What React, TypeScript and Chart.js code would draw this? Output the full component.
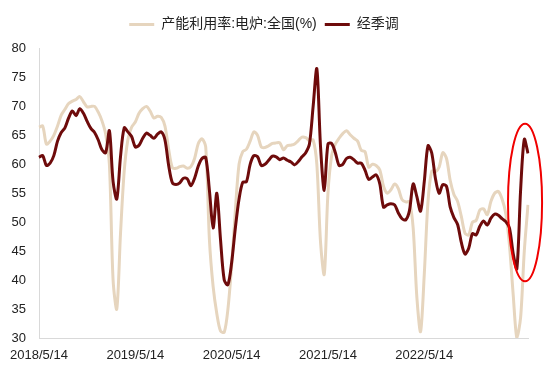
import React, { useEffect, useRef } from "react";
import { Chart, registerables } from "chart.js";

Chart.register(...registerables);

// Biweekly observations, starting 2018/5/14
const seasonallyAdjusted = [
  61.2, 61.5, 59.8, 60.2, 61.5, 64.0, 65.5, 66.3, 68.0, 69.2,
  68.4, 69.6, 68.8, 67.4, 66.2, 65.5, 64.2, 62.5, 62.0, 65.8,
  57.0, 54.0, 61.3, 66.3, 65.6, 64.8, 63.0, 63.3, 64.5, 65.4,
  65.0, 64.5, 65.2, 65.6, 64.2, 59.8, 56.8, 56.5, 56.8, 57.6,
  57.5, 56.3, 57.6, 59.7, 61.0, 61.2, 55.5, 49.0, 55.0, 47.0,
  40.0, 39.2, 43.0, 49.0, 54.0, 56.9, 57.0, 60.0, 61.5, 61.3,
  59.8, 60.0, 60.7, 61.4, 61.3, 60.8, 61.1, 60.7, 60.4, 59.9,
  60.5, 61.3, 62.0, 63.5, 70.0, 76.5, 63.0, 55.5, 63.5, 63.6,
  62.0, 59.8, 60.0, 61.0, 61.2, 60.8, 60.2, 60.2, 59.0, 57.4,
  57.8, 58.2, 56.6, 52.6, 53.0, 53.2, 53.0, 51.6, 50.6, 50.4,
  52.0, 56.6, 54.4, 51.9, 57.0, 63.2, 62.0, 57.6, 55.0, 56.5,
  56.2, 52.6, 50.8, 49.6, 46.5, 44.5, 45.5, 48.0, 47.8, 49.3,
  50.2, 49.5, 50.7, 51.4, 51.2, 50.6, 50.1, 49.0, 44.6, 42.0,
  55.5, 64.3, 61.9,
];

const utilizationRate = [
  66.4, 66.6, 63.5, 64.0, 65.0, 66.6, 68.5, 69.5, 70.5, 70.9,
  71.2, 71.7, 70.8, 69.9, 70.0, 70.0, 69.0, 67.5, 65.2, 60.0,
  40.0, 35.0, 48.0, 58.8, 64.3, 66.4, 67.3, 68.8, 69.6, 70.0,
  69.2, 68.0, 68.3, 68.1, 66.6, 62.6, 59.4, 59.3, 59.6, 59.7,
  59.3, 59.6, 61.0, 63.6, 64.4, 63.0, 47.0, 38.9, 34.2, 31.2,
  31.0, 35.0, 42.5, 52.0, 60.0, 62.2, 62.6, 64.0, 65.6, 65.0,
  63.0, 62.9, 63.2, 63.6, 63.7, 63.7, 62.5, 63.2, 63.3, 63.5,
  64.1, 64.7, 64.6, 64.1, 64.2, 60.0, 46.5, 41.0, 55.0, 61.5,
  63.5, 64.5, 65.3, 65.8, 65.1, 64.5, 64.0, 62.4, 62.2, 59.5,
  60.0, 59.8, 59.0, 56.2, 55.0, 55.6, 56.6, 55.8, 53.9, 53.5,
  53.5, 49.0, 37.0, 31.1, 41.0, 53.5, 58.8, 58.7, 59.5, 62.0,
  61.0, 57.2, 54.8, 53.6, 51.0, 48.1, 47.8, 50.0, 50.3, 52.1,
  52.3, 51.3, 53.6, 55.0, 55.3, 54.0, 51.5, 46.0, 37.5, 30.0,
  33.5, 45.0, 53.0,
];

const xTickLabels = ["2018/5/14", "2019/5/14", "2020/5/14", "2021/5/14", "2022/5/14"];
const pointsPerYear = 26;
const categories = seasonallyAdjusted.map((_, i) =>
  i % pointsPerYear === 0 && xTickLabels[i / pointsPerYear] ? xTickLabels[i / pointsPerYear] : ""
);

const seriesNames = ["经季调", "产能利用率:电炉:全国(%)"];

// highlight ellipse (data units)
const highlightCenterIndex = 131.2;
const highlightCenterValue = 53.4;
const highlightRadiusIndex = 4.6;
const highlightRadiusValue = 13.6;

const FONT = 'Arial, "Liberation Sans", "Noto Sans CJK SC", sans-serif';

const ellipsePlugin = {
  id: "highlightEllipse",
  afterDraw(chart: any) {
    const x = chart.scales.x;
    const y = chart.scales.y;
    const cx = x.getPixelForValue(highlightCenterIndex);
    const cy = y.getPixelForValue(highlightCenterValue);
    const rx = Math.abs(x.getPixelForValue(highlightCenterIndex + highlightRadiusIndex) - cx);
    const ry = Math.abs(y.getPixelForValue(highlightCenterValue + highlightRadiusValue) - cy);
    const ctx = chart.ctx;
    ctx.save();
    ctx.beginPath();
    ctx.ellipse(cx, cy, rx, ry, 0, 0, Math.PI * 2);
    ctx.strokeStyle = "#F00000";
    ctx.lineWidth = 2;
    ctx.stroke();
    ctx.restore();
  },
};

const legendSpacePlugin = {
  id: "legendSpace",
  afterInit(chart: any) {
    const legend = chart.legend;
    if (!legend || legend.__patched) return;
    const orig = legend.fit.bind(legend);
    legend.fit = function () {
      orig();
      this.height += 7;
    };
    legend.__patched = true;
  },
};

export default function App() {
  const ref = useRef<HTMLCanvasElement>(null);
  useEffect(() => {
    if (!ref.current) return;
    const chart = new Chart(ref.current, {
      type: "line",
      data: {
        labels: categories,
        datasets: [
          {
            label: seriesNames[0],
            data: seasonallyAdjusted,
            borderColor: "#6E0B0B",
            backgroundColor: "#6E0B0B",
            borderWidth: 3,
            pointRadius: 0,
            tension: 0.3,
          },
          {
            label: seriesNames[1],
            data: utilizationRate,
            borderColor: "#E6D5BE",
            backgroundColor: "#E6D5BE",
            borderWidth: 3,
            pointRadius: 0,
            tension: 0.3,
          },
        ],
      },
      options: {
        animation: false,
        responsive: false,
        layout: { padding: { top: 9.5, right: 22, left: 0, bottom: 0 } },
        plugins: {
          tooltip: { enabled: false },
          legend: {
            position: "top",
            labels: {
              usePointStyle: true,
              pointStyle: "line",
              pointStyleWidth: 25,
              padding: 8,
              color: "#222",
              font: { family: FONT, size: 14 },
              sort: (a: any, b: any) => b.datasetIndex - a.datasetIndex,
            },
          },
        },
        scales: {
          x: {
            type: "category",
            grid: { display: false, drawTicks: false },
            border: { display: true, color: "#D9D9D9", width: 1 },
            afterFit: (s: any) => {
              s.height = 35;
            },
            ticks: {
              autoSkip: false,
              maxRotation: 0,
              minRotation: 0,
              padding: 10,
              color: "#222",
              font: { family: FONT, size: 13 },
            },
          },
          y: {
            min: 30,
            max: 80,
            grid: { display: false, drawTicks: false },
            border: { display: true, color: "#D9D9D9", width: 1 },
            afterFit: (s: any) => {
              s.width = 39;
            },
            ticks: {
              stepSize: 5,
              padding: 13,
              color: "#222",
              font: { family: FONT, size: 13 },
            },
          },
        },
      },
      plugins: [ellipsePlugin, legendSpacePlugin],
    });
    return () => chart.destroy();
  }, []);

  return (
    <div style={{ position: "absolute", left: 0, top: 0, width: 550, height: 373, background: "#fff" }}>
      <canvas ref={ref} width={550} height={373} style={{ display: "block" }} />
    </div>
  );
}
